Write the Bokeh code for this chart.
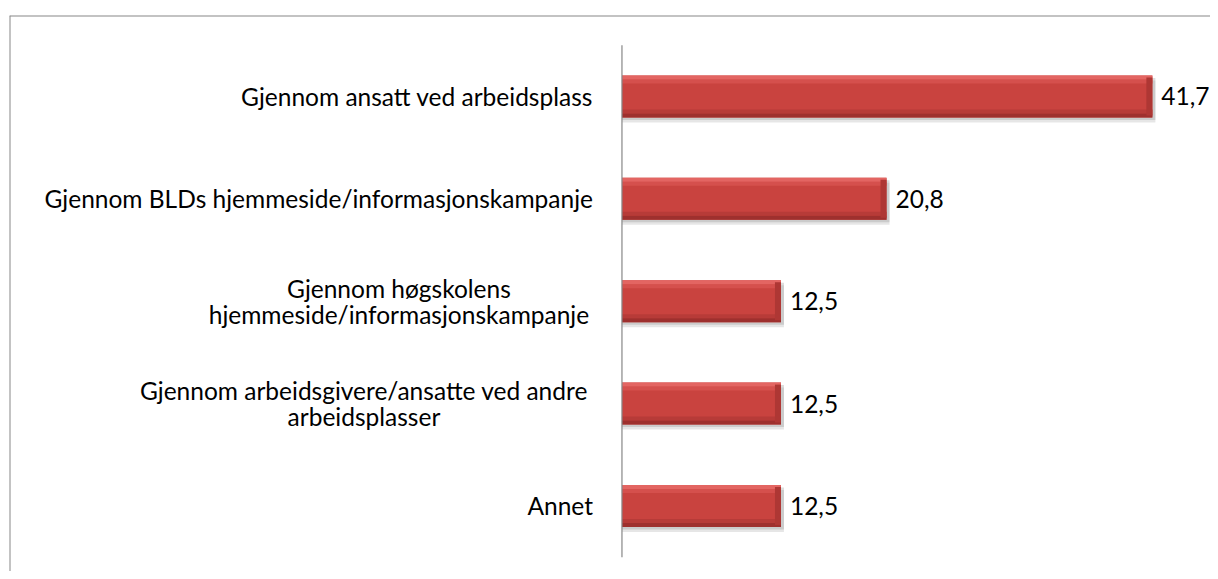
from bokeh.plotting import figure
from bokeh.models import ColumnDataSource, Range1d, Span
from bokeh.core.properties import value
from bokeh.embed import file_html
from bokeh.resources import INLINE

# ---- data ----
categories = [
    "Gjennom ansatt ved arbeidsplass",
    "Gjennom BLDs hjemmeside/informasjonskampanje",
    "Gjennom høgskolens\nhjemmeside/informasjonskampanje",
    "Gjennom arbeidsgivere/ansatte ved andre\narbeidsplasser",
    "Annet",
]
values = [41.7, 20.8, 12.5, 12.5, 12.5]
value_labels = ["41,7", "20,8", "12,5", "12,5", "12,5"]

# ---- style / layout ----
FONT = "Lato"
FSIZE = "24.5px"
BAR_H = 0.41
PX_Y = 1 / 102.4      # one pixel in y data units
PX_X = 1 / 12.72      # one pixel in x data units
X0, X1 = -48.15, 46.27
Y_BOTTOM, Y_TOP = 4.64, -0.791
# estimated pixel widths of the widest line of multi-line labels (for centring)
block_width = {2: 388, 3: 458}

idx = list(range(len(categories)))

p = figure(width=1210, height=571, output_backend="svg", toolbar_location=None,
           x_axis_type=None, y_axis_type=None,
           x_range=Range1d(X0, X1), y_range=Range1d(Y_BOTTOM, Y_TOP),
           min_border_left=9, min_border_right=0, min_border_top=15, min_border_bottom=0)
p.outline_line_color = None
p.grid.visible = False
p.background_fill_color = "white"
p.border_fill_color = "white"

# outer chart box (left and top edges visible)
p.add_layout(Span(location=X0, dimension="height", line_color="#878787", line_width=2))
p.add_layout(Span(location=Y_TOP, dimension="width", line_color="#878787", line_width=2))

src = ColumnDataSource(dict(
    y=idx, v=values, lab=value_labels,
    y_sh1=[i + 5 * PX_Y for i in idx], y_sh2=[i + 2.5 * PX_Y for i in idx],
    v_sh=[v + 3 * PX_X for v in values],
    y_top=[i - BAR_H / 2 + 2 * PX_Y for i in idx],
    y_top2=[i - BAR_H / 2 + 6 * PX_Y for i in idx],
    y_bot=[i + BAR_H / 2 - 2 * PX_Y for i in idx],
    y_bot2=[i + BAR_H / 2 - 6 * PX_Y for i in idx],
    v_edge=[v - 6 * PX_X for v in values],
))

# shadow
p.hbar(y="y_sh1", left=0, right="v_sh", height=BAR_H, source=src,
       fill_color="#b8b8b8", fill_alpha=0.35, line_color=None)
p.hbar(y="y_sh2", left=0, right="v_sh", height=BAR_H, source=src,
       fill_color="#909090", fill_alpha=0.3, line_color=None)
# main bar
p.hbar(y="y", left=0, right="v", height=BAR_H, source=src,
       fill_color="#C9433F", line_color=None)
# bevel highlights / shades
p.hbar(y="y_top2", left=0, right="v", height=4 * PX_Y, source=src,
       fill_color="#D5504D", line_color=None)
p.hbar(y="y_top", left=0, right="v", height=4 * PX_Y, source=src,
       fill_color="#E36562", line_color=None)
p.hbar(y="y_bot2", left=0, right="v", height=4 * PX_Y, source=src,
       fill_color="#B73B38", line_color=None)
p.hbar(y="y_bot", left=0, right="v", height=4 * PX_Y, source=src,
       fill_color="#9E302E", line_color=None)
p.hbar(y="y", left="v_edge", right="v", height=BAR_H - 4 * PX_Y, source=src,
       fill_color="#AE3734", line_color=None)

# vertical category axis line
p.segment(x0=0, x1=0, y0=-0.5, y1=len(categories) - 0.5, line_color="#878787", line_width=1.2)

# value labels
p.text(x="v", y="y", text="lab", source=src, x_offset=9,
       text_font=value(FONT), text_font_size=FSIZE, text_color="#000000",
       text_align="left", text_baseline="middle")

# category labels
single = dict(x=[], y=[], t=[])
multi = dict(x=[], y=[], t=[], xo=[], yo=[])
LINE_GAP = 26
GAP = 29
for i, c in enumerate(categories):
    lines = c.split("\n")
    if len(lines) == 1:
        single["x"].append(0); single["y"].append(i); single["t"].append(c)
    else:
        n = len(lines)
        for k, ln in enumerate(lines):
            multi["x"].append(0); multi["y"].append(i); multi["t"].append(ln)
            multi["xo"].append(-(GAP + block_width[i] / 2))
            multi["yo"].append((k - (n - 1) / 2) * LINE_GAP)

p.text(x="x", y="y", text="t", source=ColumnDataSource(single), x_offset=-GAP,
       text_font=value(FONT), text_font_size=FSIZE, text_color="#000000",
       text_align="right", text_baseline="middle")
p.text(x="x", y="y", text="t", source=ColumnDataSource(multi), x_offset="xo", y_offset="yo",
       text_font=value(FONT), text_font_size=FSIZE, text_color="#000000",
       text_align="center", text_baseline="middle")

open("out.html", "w").write(file_html(p, INLINE))
